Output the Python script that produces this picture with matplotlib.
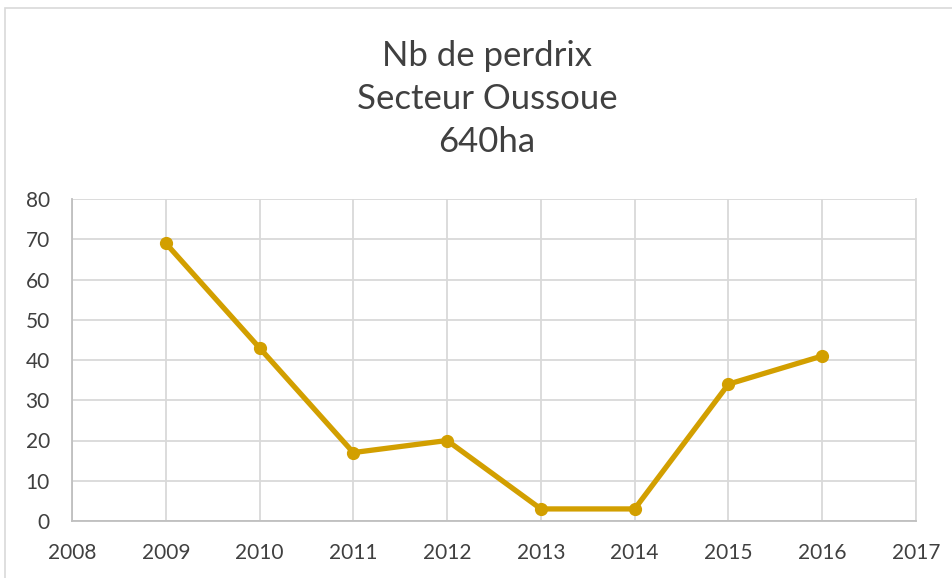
import matplotlib.pyplot as plt
from matplotlib.patches import Rectangle

years = [2009, 2010, 2011, 2012, 2013, 2014, 2015, 2016]
perdrix = [69, 43, 17, 20, 3, 3, 34, 41]
xticks = list(range(2008, 2018))
yticks = list(range(0, 90, 10))
title = "Nb de perdrix\nSecteur Oussoue\n640ha"

line_color = '#D29F00'
grid_color = '#D9D9D9'
axis_color = '#BFBFBF'
text_color = '#404040'

plt.rcParams['font.family'] = ['Lato', 'DejaVu Sans']

W, H = 953, 578
fig = plt.figure(figsize=(W / 100, H / 100), dpi=100)

# cadre du graphique (style Excel)
fig.patches.append(Rectangle((5 / W, -0.1), 1.2, 1 - 8 / H + 0.1, transform=fig.transFigure,
                             fill=False, edgecolor='#D9D9D9', linewidth=1.2))

ax = fig.add_axes([72 / W, (H - 521) / H, (916 - 72) / W, (521 - 199) / H])
ax.plot(years, perdrix, color=line_color, linewidth=3.8, marker='o', markersize=8.5,
        markerfacecolor=line_color, markeredgecolor=line_color, zorder=3, clip_on=False)

ax.set_xlim(2008, 2017)
ax.set_ylim(0, 80)
ax.set_xticks(xticks)
ax.set_yticks(yticks)
ax.grid(True, color=grid_color, linewidth=1.3)
ax.set_axisbelow(True)
ax.spines['top'].set_visible(False)
ax.spines['right'].set_color(grid_color)
ax.spines['left'].set_color(axis_color)
ax.spines['bottom'].set_color(axis_color)
for s in ['left', 'bottom', 'right']:
    ax.spines[s].set_linewidth(1.3)
ax.tick_params(length=0, labelsize=15, labelcolor=text_color)
ax.tick_params(axis='x', pad=16)
ax.tick_params(axis='y', pad=16)

fig.text(487 / W, 1 - 99 / H, title, ha='center', va='center',
         fontsize=25, color=text_color, linespacing=1.43)

fig.savefig('out.png', dpi=100)
